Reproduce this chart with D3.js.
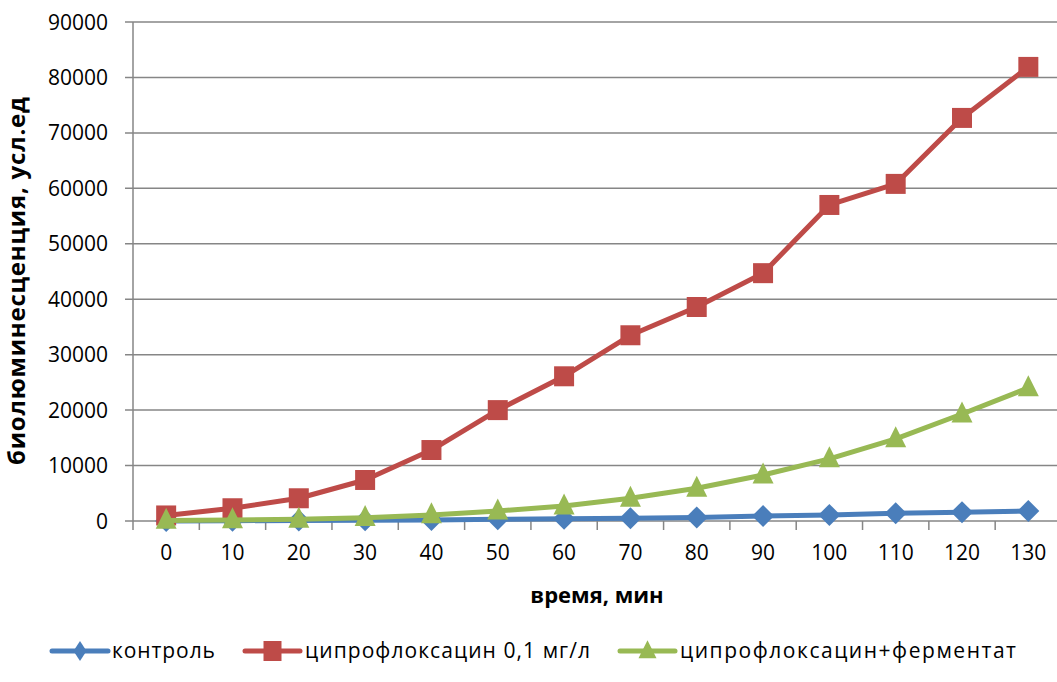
<!DOCTYPE html>
<html><head><meta charset="utf-8">
<script src="https://cdn.jsdelivr.net/npm/d3@7"></script>
<style>body{margin:0;background:#fff}svg{display:block}text{font-family:"Open Sans",sans-serif}</style>
</head><body><svg id="c" width="1057" height="682"></svg>
<script>
const categories = [0,10,20,30,40,50,60,70,80,90,100,110,120,130];
const kontrol = [0,50,100,150,200,300,400,500,650,900,1100,1400,1600,1800];
const cipro = [1000,2300,4100,7400,12800,20000,26100,33500,38600,44700,57000,60800,72700,81900];
const ciproFerm = [100,200,300,600,1100,1800,2700,4100,5900,8300,11200,14800,19300,24000];
const yTicks = [0,10000,20000,30000,40000,50000,60000,70000,80000,90000];
const seriesNames = ["контроль","ципрофлоксацин 0,1 мг/л","ципрофлоксацин+ферментат"];
const colors = ["#4A7EBB","#BE4B48","#98B954"];

const diamond = (w, h) => `M0,${-h/2}L${w/2},0L0,${h/2}L${-w/2},0Z`;
const square = (w, h) => `M${-w/2},${-h/2}H${w/2}V${h/2}H${-w/2}Z`;
const triangle = (w, h) => `M0,${-h*0.6}L${w/2},${h*0.4}L${-w/2},${h*0.4}Z`;
const markers = [d => diamond(22, 22), d => square(20, 20), d => triangle(21, 21)];
const legMarkers = [diamond(13, 20), square(18, 20), triangle(18, 18)];

const svg = d3.select("#c");
const L = 133, R = 1061.5, T = 22, B = 521;
const x = d3.scaleBand().domain(categories).range([L, R]);
const y = d3.scaleLinear().domain([0, 90000]).range([B, T]);
const grid = "#868686";

svg.append("g").selectAll("line").data(yTicks).join("line")
  .attr("x1", L - 8).attr("x2", R).attr("y1", d => y(d)).attr("y2", d => y(d))
  .attr("stroke", grid).attr("stroke-width", 1.5);
svg.append("line").attr("x1", L).attr("x2", L).attr("y1", T).attr("y2", B).attr("stroke", grid).attr("stroke-width", 1.5);
const bounds = categories.map(c => x(c)).concat([R]);
svg.append("g").selectAll("line").data(bounds).join("line")
  .attr("x1", d => d).attr("x2", d => d).attr("y1", B).attr("y2", B + 9)
  .attr("stroke", grid).attr("stroke-width", 1.5);

svg.append("g").selectAll("text").data(yTicks).join("text")
  .attr("x", 108).attr("y", d => y(d)).attr("dy", "0.36em").attr("text-anchor", "end")
  .attr("font-size", 21).attr("fill", "#000").text(d => d);
svg.append("g").selectAll("text").data(categories).join("text")
  .attr("x", d => x(d) + x.bandwidth() / 2).attr("y", 560).attr("text-anchor", "middle")
  .attr("font-size", 21).attr("fill", "#000").text(d => d);

svg.append("text").attr("x", 597).attr("y", 603).attr("text-anchor", "middle")
  .attr("font-size", 22).attr("font-weight", "bold").text("время, мин");
svg.append("text").attr("transform", "translate(25,281) rotate(-90)").attr("text-anchor", "middle")
  .attr("font-size", 24).attr("font-weight", "bold")
  .attr("textLength", 368).attr("lengthAdjust", "spacing").text("биолюминесценция, усл.ед");

const data = [kontrol, cipro, ciproFerm];
const cx = i => x(categories[i]) + x.bandwidth() / 2;
const line = d3.line().x((d, i) => cx(i)).y(d => y(d));
data.forEach((vals, s) => {
  const g = svg.append("g");
  g.append("path").datum(vals).attr("d", line).attr("fill", "none")
    .attr("stroke", colors[s]).attr("stroke-width", 5).attr("stroke-linejoin", "round");
  g.selectAll("path.m").data(vals).join("path").attr("class", "m")
    .attr("transform", (d, i) => `translate(${cx(i)},${y(d)})`)
    .attr("d", markers[s]).attr("fill", colors[s]);
});

const leg = [{x1:52,x2:108,t:112,len:103},{x1:245,x2:300,t:305,len:285},{x1:620,x2:675,t:680,len:336}];
const ly = 651;
leg.forEach((p, s) => {
  const g = svg.append("g");
  g.append("line").attr("x1", p.x1).attr("x2", p.x2).attr("y1", ly).attr("y2", ly)
    .attr("stroke", colors[s]).attr("stroke-width", 5).attr("stroke-linecap", "round");
  g.append("path").attr("transform", `translate(${(p.x1 + p.x2) / 2},${ly})`)
    .attr("d", legMarkers[s]).attr("fill", colors[s]);
  g.append("text").attr("x", p.t).attr("y", ly).attr("dy", "0.35em")
    .attr("font-size", 21).attr("textLength", p.len).attr("lengthAdjust", "spacing").text(seriesNames[s]);
});
</script></body></html>
